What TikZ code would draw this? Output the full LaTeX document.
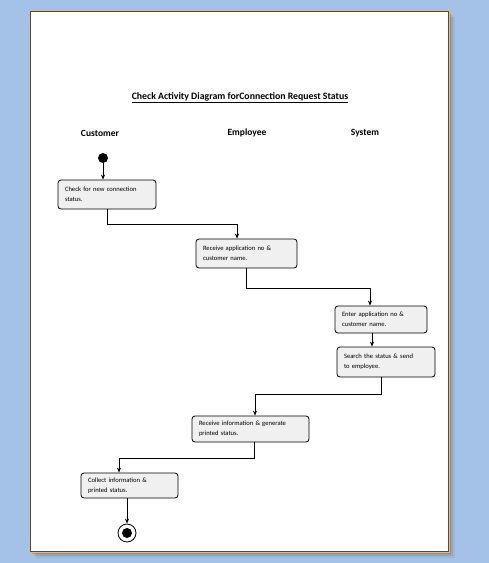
\documentclass[tikz,border=0pt]{standalone}
\usepackage{fontspec}
\setmainfont{Carlito}
\usetikzlibrary{arrows.meta}
\definecolor{deskblue}{HTML}{A4C2E8}
\definecolor{pageedge}{HTML}{F7B55E}
\definecolor{actfill}{HTML}{F0F0F0}
\begin{document}
\begin{tikzpicture}[x=1pt,y=-1pt,
    act/.style={draw,rounded corners=3pt,fill=actfill,line width=0.8pt,
      inner xsep=7pt,inner ysep=3pt,align=left,
      font=\fontsize{6.6}{10}\selectfont},
    flow/.style={draw,line width=0.8pt,-{Stealth[length=5pt,width=4pt]}},
    lane/.style={font=\fontsize{9.5}{11}\selectfont\bfseries}]
  \def\pgx{30};\def\pgy{11};\def\pgw{419};\def\pgh{541};
  \useasboundingbox[fill=deskblue] (0,0) rectangle (489,563);
  % shadow of the page
  \foreach \s/\o in {6/0.06,4/0.08,2/0.12} {
    \fill[black,opacity=\o] (\pgx+\s,\pgy+\s) rectangle (\pgx+\pgw+\s,\pgy+\pgh+\s);
  }
  \fill[white] (\pgx,\pgy) rectangle (\pgx+\pgw,\pgy+\pgh);
  \draw[pageedge,line width=1.5pt] (\pgx-0.7,\pgy-0.7) rectangle (\pgx+\pgw+0.7,\pgy+\pgh+0.7);
  \draw[black!70,line width=0.6pt] (\pgx+0.4,\pgy+0.4) rectangle (\pgx+\pgw-0.4,\pgy+\pgh-0.4);

  \node[font=\fontsize{9.8}{11}\selectfont\bfseries] (title) at (240,98)
    {\underline{Check Activity Diagram forConnection Request Status}};
  \node[lane] (customer) at (100,133) {Customer};
  \node[lane] (employee) at (247,133) {Employee};
  \node[lane] (system) at (365,133) {System};

  \node[circle,fill=black,inner sep=0pt,minimum size=10pt] (start) at (103,158) {};

  \node[act,text width=84pt,minimum height=29pt] (check) at (107,194.5)
    {Check for new connection\\status.};
  \node[act,text width=87pt,minimum height=29pt] (receive) at (246.5,253.5)
    {Receive application no \&\\customer name.};
  \node[act,text width=78pt,minimum height=27pt] (enter) at (381,319.5)
    {Enter application no \&\\customer name.};
  \node[act,text width=84pt,minimum height=30pt] (search) at (386,362)
    {Search the status \& send\\to employee.};
  \node[act,text width=103pt,minimum height=26pt] (generate) at (250.5,429)
    {Receive information \& generate\\printed status.};
  \node[act,text width=83pt,minimum height=25pt] (collect) at (129.5,485.5)
    {Collect information \&\\printed status.};

  \node[circle,draw,line width=0.8pt,fill=white,minimum size=18pt,inner sep=0pt] (final) at (127,533) {};
  \node[circle,fill=black,minimum size=10pt,inner sep=0pt] (finaldot) at (final) {};

  \draw[flow] (start.south) -- (start.south |- check.north);
  \draw[flow] (check.south) -- ++(0,15) -| ([xshift=-9.5pt]receive.north);
  \draw[flow] (receive.south) -- ++(0,20) -| ([xshift=-11pt]enter.north);
  \draw[flow] ([xshift=-9pt]enter.south) -- ([xshift=-14pt]search.north);
  \draw[flow] ([xshift=-5pt]search.south) -- ++(0,17) -| ([xshift=4.5pt]generate.north);
  \draw[flow] ([xshift=3.5pt]generate.south) -- ++(0,16) -| ([xshift=-10.5pt]collect.north);
  \draw[flow] ([xshift=-2.5pt]collect.south) -- (final);
\end{tikzpicture}
\end{document}
